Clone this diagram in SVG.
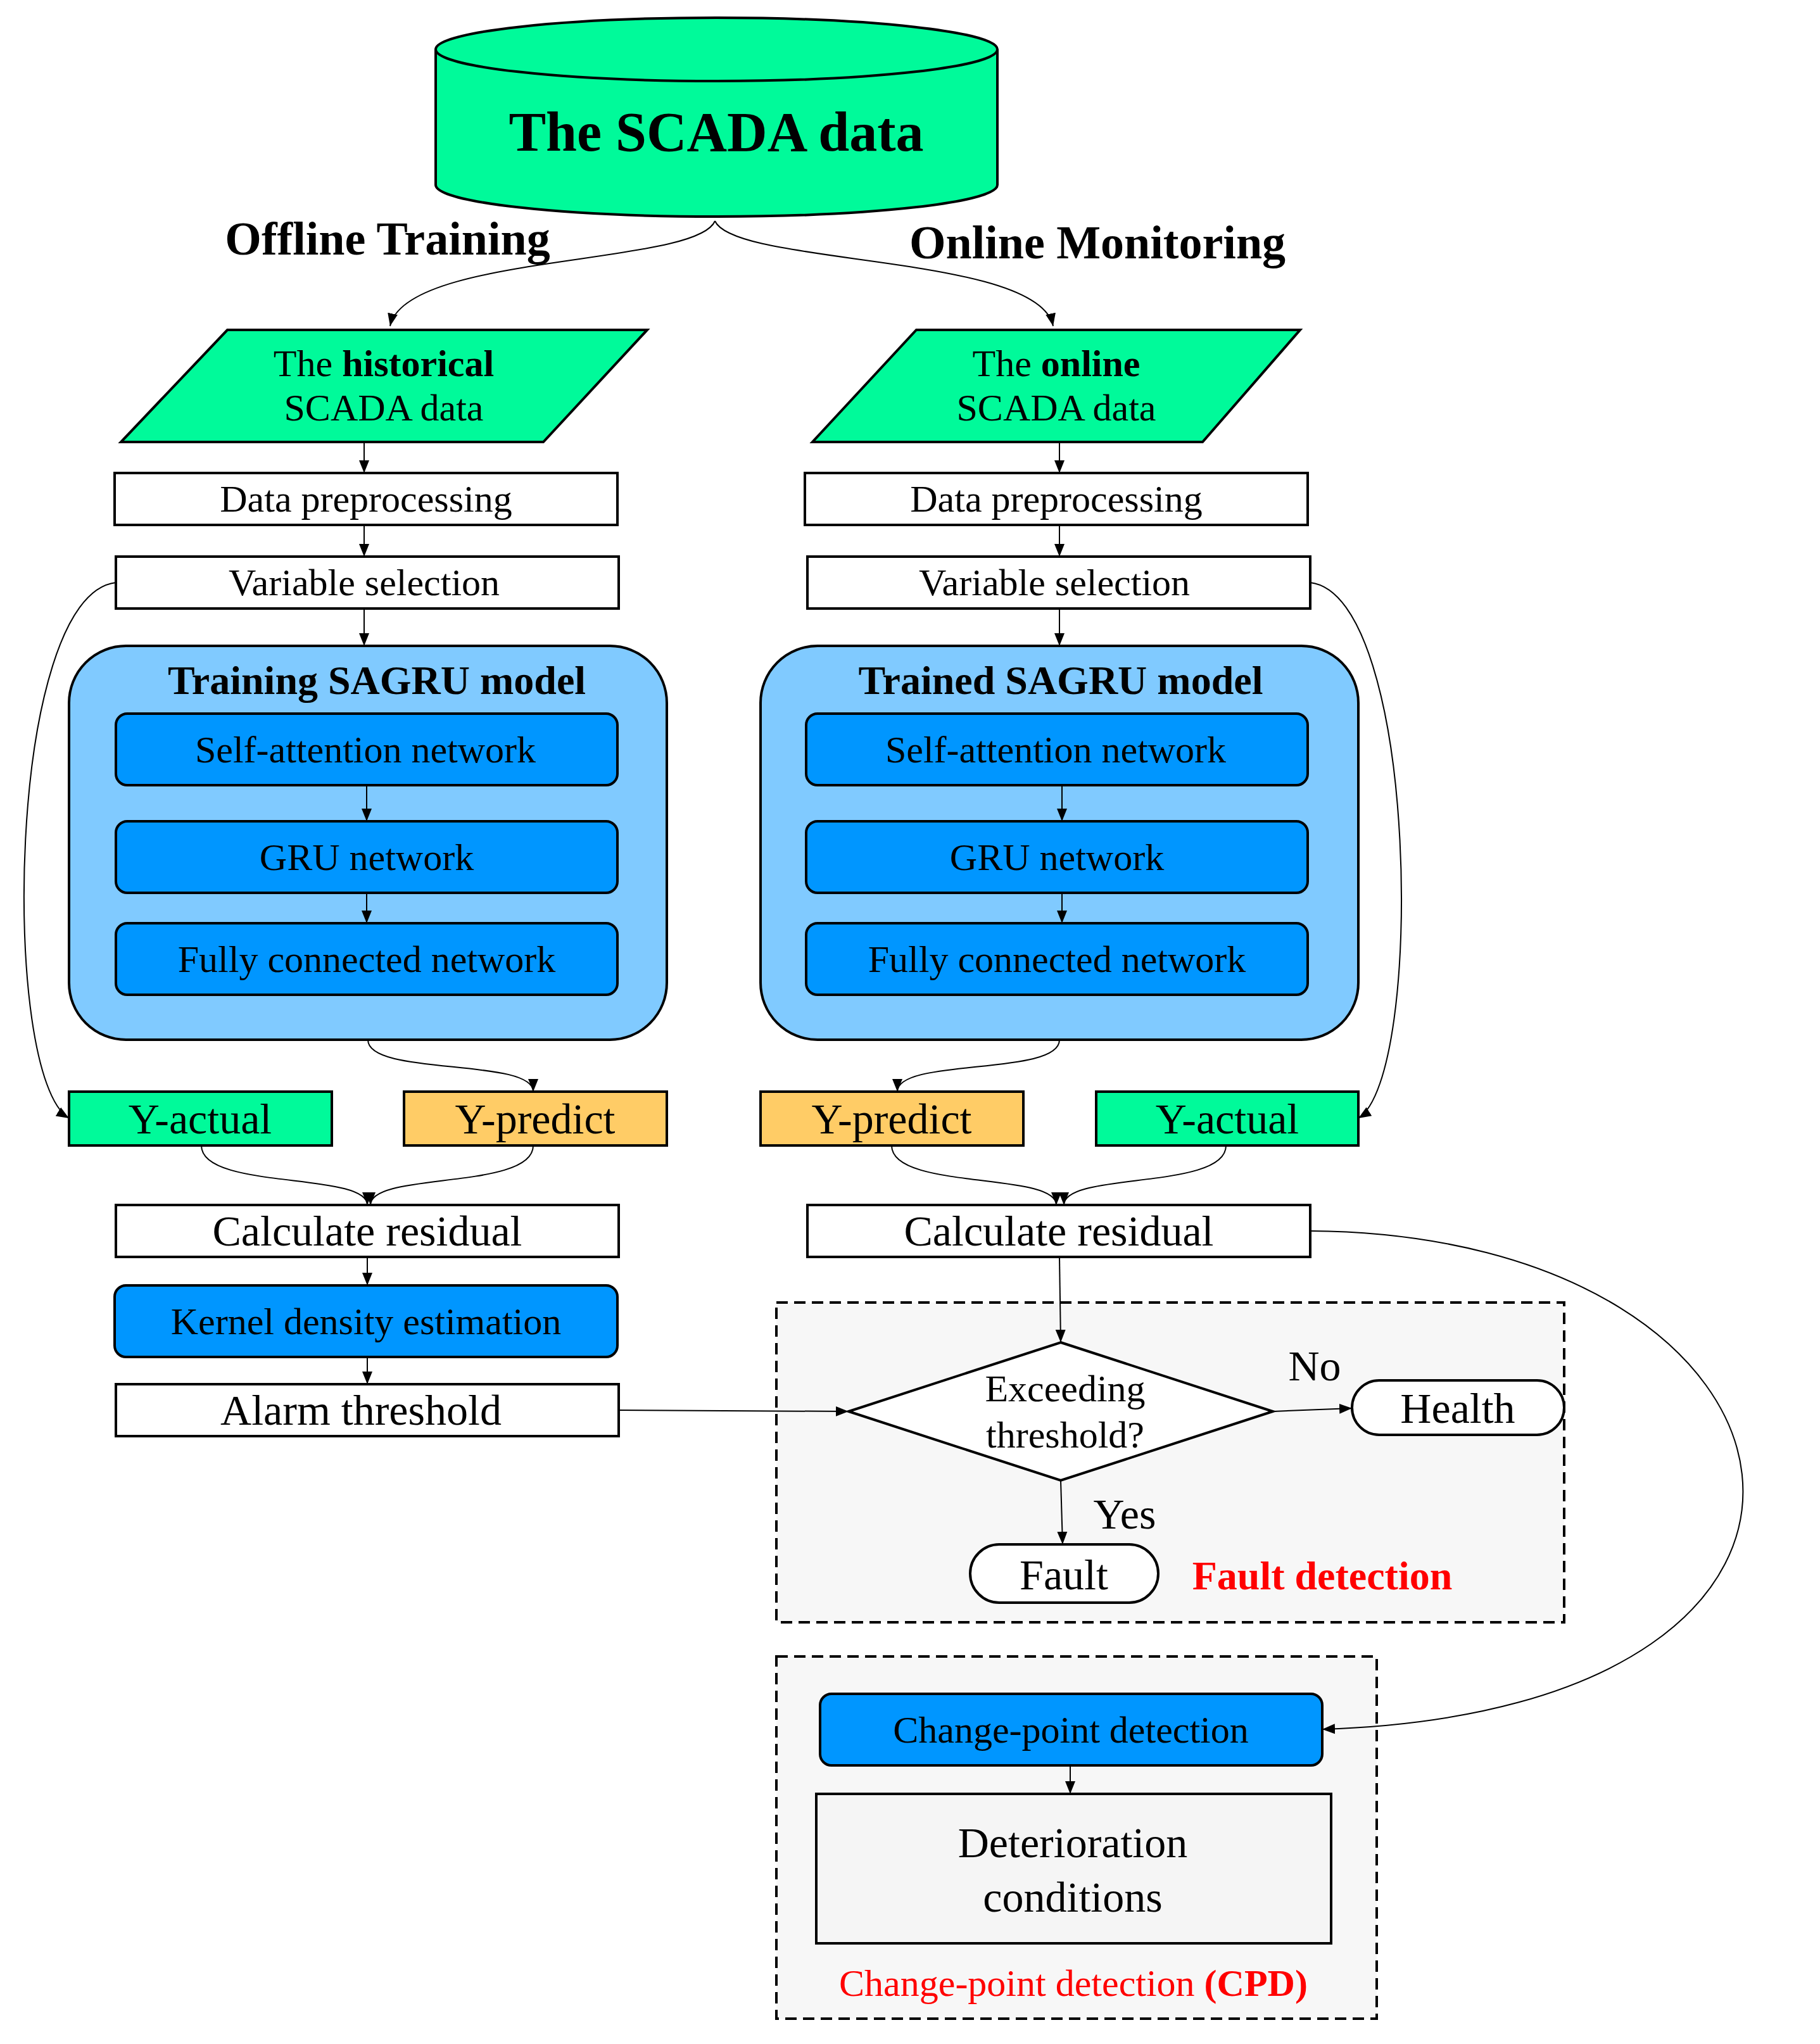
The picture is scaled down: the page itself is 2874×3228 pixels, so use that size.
<svg xmlns="http://www.w3.org/2000/svg" width="2874" height="3228" viewBox="0 0 2874 3228">
<style>
text{font-family:"Liberation Serif","DejaVu Serif",serif;text-anchor:middle;fill:#000}
.b{stroke:#000;stroke-width:4}
.w{fill:#fff}
.blue{fill:#0096ff}
.lb{fill:#80caff}
.g{fill:#00fa9a}
.y{fill:#ffcc66}
.t{font-size:60px}
.t2{font-size:68px}
.c{fill:none;stroke:#000;stroke-width:2;marker-end:url(#a)}
.d{fill:#f7f7f7;stroke:#000;stroke-width:4;stroke-dasharray:18 10}
</style>
<defs><marker id="a" markerWidth="10" markerHeight="10" refX="9" refY="5" orient="auto" markerUnits="userSpaceOnUse" viewBox="0 0 10 10"><path d="M0,0L10,5L0,10z" fill="#000"/></marker>
<marker id="a2" markerWidth="22" markerHeight="22" refX="20" refY="11" orient="auto" markerUnits="userSpaceOnUse"><path d="M0,3L20,11L0,19z" fill="#000"/></marker></defs>
<style>.c{marker-end:url(#a2)}</style>
<rect x="0" y="0" width="2874" height="3228" fill="#fff"/>
<g id="db"><path class="b g" d="M688,78V292A443.5,50 0 0 0 1575,292V78"/><ellipse class="b g" cx="1131.5" cy="78" rx="443.5" ry="50"/><text x="1131" y="238" font-size="88" font-weight="bold">The SCADA data</text></g>
<g id="labels"><text x="612" y="402" font-size="74" font-weight="bold">Offline Training</text><text x="1733" y="408" font-size="74" font-weight="bold">Online Monitoring</text></g>
<g id="hist"><polygon class="b g" points="359,521 1022,521 858,698 191,698"/><text class="t" x="606" y="594">The <tspan font-weight="bold">historical</tspan></text><text class="t" x="606" y="664">SCADA data</text></g>
<g id="onl"><polygon class="b g" points="1447,521 2053,521 1899,698 1283,698"/><text class="t" x="1668" y="594">The <tspan font-weight="bold">online</tspan></text><text class="t" x="1668" y="664">SCADA data</text></g>
<g id="dp1"><rect class="b w" x="181" y="747" width="794" height="82"/><text class="t" x="578" y="808">Data preprocessing</text></g>
<g id="dp2"><rect class="b w" x="1271" y="747" width="794" height="82"/><text class="t" x="1668" y="808">Data preprocessing</text></g>
<g id="vs1"><rect class="b w" x="183" y="879" width="794" height="82"/><text class="t" x="575" y="940">Variable selection</text></g>
<g id="vs2"><rect class="b w" x="1275" y="879" width="794" height="82"/><text class="t" x="1665" y="940">Variable selection</text></g>
<g id="m1"><rect class="b lb" x="109" y="1020" width="944" height="622" rx="90"/><text x="595" y="1096" font-size="64" font-weight="bold">Training SAGRU model</text>
<rect class="b blue" x="183" y="1127" width="792" height="113" rx="18"/><text class="t" x="577" y="1204">Self-attention network</text>
<rect class="b blue" x="183" y="1297" width="792" height="113" rx="18"/><text class="t" x="579" y="1374">GRU network</text>
<rect class="b blue" x="183" y="1458" width="792" height="113" rx="18"/><text class="t" x="579" y="1535">Fully connected network</text></g>
<g id="m2"><rect class="b lb" x="1201" y="1020" width="944" height="622" rx="90"/><text x="1675" y="1096" font-size="64" font-weight="bold">Trained SAGRU model</text>
<rect class="b blue" x="1273" y="1127" width="792" height="113" rx="18"/><text class="t" x="1667" y="1204">Self-attention network</text>
<rect class="b blue" x="1273" y="1297" width="792" height="113" rx="18"/><text class="t" x="1669" y="1374">GRU network</text>
<rect class="b blue" x="1273" y="1458" width="792" height="113" rx="18"/><text class="t" x="1669" y="1535">Fully connected network</text></g>
<g id="ya1"><rect class="b g" x="109" y="1724" width="415" height="85"/><text class="t2" x="316" y="1790">Y-actual</text></g>
<g id="yp1"><rect class="b y" x="638" y="1724" width="415" height="85"/><text class="t2" x="845" y="1790">Y-predict</text></g>
<g id="yp2"><rect class="b y" x="1201" y="1724" width="415" height="85"/><text class="t2" x="1408" y="1790">Y-predict</text></g>
<g id="ya2"><rect class="b g" x="1731" y="1724" width="414" height="85"/><text class="t2" x="1938" y="1790">Y-actual</text></g>
<g id="cr1"><rect class="b w" x="183" y="1903" width="794" height="82"/><text class="t2" x="580" y="1967">Calculate residual</text></g>
<g id="cr2"><rect class="b w" x="1275" y="1903" width="794" height="82"/><text class="t2" x="1672" y="1967">Calculate residual</text></g>
<g id="kde"><rect class="b blue" x="181" y="2030" width="794" height="113" rx="18"/><text class="t" x="578" y="2107">Kernel density estimation</text></g>
<g id="at"><rect class="b w" x="183" y="2186" width="794" height="82"/><text class="t2" x="570" y="2250">Alarm threshold</text></g>
<g id="fd"><rect class="d" x="1226" y="2057" width="1244" height="505"/>
<polygon class="b w" points="1675,2120 2010,2229 1675,2338 1340,2229"/><text class="t" x="1682" y="2213">Exceeding</text><text class="t" x="1682" y="2286">threshold?</text>
<rect class="b w" x="2135" y="2180" width="335" height="86" rx="43"/><text class="t2" x="2302" y="2247">Health</text>
<rect class="b w" x="1532" y="2439" width="297" height="92" rx="46"/><text class="t2" x="1680" y="2510">Fault</text>
<text class="t2" x="2076" y="2180">No</text><text class="t2" x="1776" y="2414">Yes</text>
<text x="2088" y="2510" font-size="64" font-weight="bold" style="fill:#f00">Fault detection</text></g>
<g id="cpd"><rect class="d" x="1226" y="2616" width="948" height="572"/>
<rect class="b blue" x="1295" y="2675" width="793" height="113" rx="18"/><text class="t" x="1691" y="2752">Change-point detection</text>
<rect class="b" fill="#f5f5f5" x="1289" y="2833" width="813" height="236"/><text class="t2" x="1694" y="2933">Deterioration</text><text class="t2" x="1694" y="3019">conditions</text>
<text x="1695" y="3152" font-size="60" style="fill:#f00">Change-point detection <tspan font-weight="bold">(CPD)</tspan></text></g>
<g id="connectors">
<path class="c" d="M1129,349C1100,420 640,400 616,515"/>
<path class="c" d="M1129,349C1160,420 1640,400 1663,515"/>
<path class="c" d="M575,698V747"/><path class="c" d="M1673,698V747"/>
<path class="c" d="M575,829V879"/><path class="c" d="M1673,829V879"/>
<path class="c" d="M575,961V1020"/><path class="c" d="M1673,961V1020"/>
<path class="c" d="M579,1240V1297"/><path class="c" d="M579,1410V1458"/>
<path class="c" d="M1677,1240V1297"/><path class="c" d="M1677,1410V1458"/>
<path class="c" d="M183,920C10,940 0,1700 109,1766"/>
<path class="c" d="M2069,920C2240,940 2250,1700 2145,1766"/>
<path class="c" d="M581,1642C581,1700 842,1670 842,1724"/>
<path class="c" d="M1673,1642C1673,1700 1417,1670 1417,1724"/>
<path class="c" d="M318,1809C318,1880 580,1850 580,1903"/>
<path class="c" d="M842,1809C842,1880 585,1850 585,1903"/>
<path class="c" d="M1408,1809C1408,1880 1668,1850 1668,1903"/>
<path class="c" d="M1936,1809C1936,1880 1680,1850 1680,1903"/>
<path class="c" d="M580,1985V2030"/><path class="c" d="M580,2143V2186"/>
<path class="c" d="M977,2227L1340,2229"/>
<path class="c" d="M1673,1985L1675,2120"/>
<path class="c" d="M2010,2229L2135,2224"/>
<path class="c" d="M1675,2338L1678,2439"/>
<path class="c" d="M2069,1944C2900,1950 3050,2700 2088,2731"/>
<path class="c" d="M1690,2788V2833"/>
</g>
</svg>
